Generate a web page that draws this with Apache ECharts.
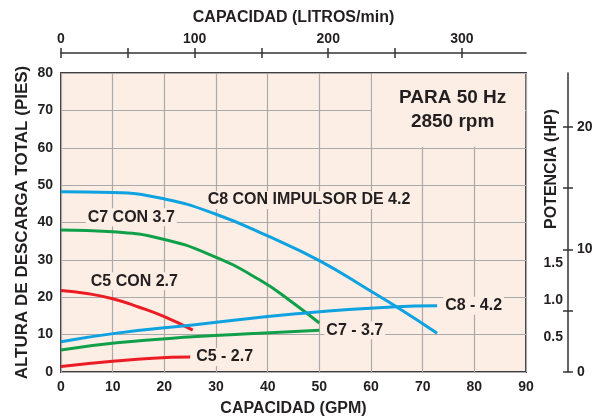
<!DOCTYPE html>
<html>
<head>
<meta charset="utf-8">
<script src="https://cdn.jsdelivr.net/npm/echarts@6/dist/echarts.min.js"></script>
<style>
  html, body { margin: 0; padding: 0; background: #fff; }
  #chart { width: 602px; height: 419px; }
</style>
</head>
<body>
<div id="chart"></div>
<script>
// head curves (ft vs GPM)
const c8HeadGpm = [0, 10, 20, 30, 40, 50, 60, 65, 72.8];
const c8HeadFt = [48.2, 48, 46.3, 42.2, 36.4, 29.8, 21.6, 17.4, 10.4];
const c7HeadGpm = [0, 10, 19, 29, 38.5, 45, 50];
const c7HeadFt = [38, 37.5, 35.8, 31.3, 24.6, 18.4, 13.1];
const c5HeadGpm = [0, 5, 10, 15, 20, 25.5];
const c5HeadFt = [21.8, 21, 19.6, 17.4, 14.8, 11.2];

// power curves (HP vs GPM)
const c8PowerGpm = [0, 10.8, 25.5, 45, 64, 72.8];
const c8PowerHp = [0.405, 0.52, 0.63, 0.775, 0.87, 0.885];
const c7PowerGpm = [0, 10.8, 25.5, 38.5, 50];
const c7PowerHp = [0.295, 0.39, 0.47, 0.52, 0.56];
const c5PowerGpm = [0, 9.5, 17.8, 25];
const c5PowerHp = [0.075, 0.14, 0.185, 0.2];

const topTicks = [0, 50, 100, 150, 200, 250, 300];
const topLabels = [0, 100, 200, 300];
const rightTicks = [0, 5, 10, 15, 20];
const rightLabels = [0, 10, 20];
const hpLabels = [0.5, 1.0, 1.5];

const BG = '#fdeee5';
const INK = '#231f20';
const FONT = '"Liberation Sans", Arial, sans-serif';
const BLUE = '#0ea2e0';
const GREEN = '#11a04a';
const RED = '#ec1c24';

const zip = (xs, ys) => xs.map((x, i) => [x, ys[i]]);

const chart = echarts.init(document.getElementById('chart'), null, { renderer: 'canvas' });

const lbl = { color: INK, fontFamily: FONT, fontWeight: 'bold', fontSize: 14 };
const nameLbl = { color: INK, fontFamily: FONT, fontWeight: 'bold', fontSize: 16 };
const curveLbl = {
  color: INK, fontFamily: FONT, fontWeight: 'bold', fontSize: 16,
  backgroundColor: BG, padding: [1, 2]
};
const tickLine = { color: '#333', width: 1.5 };

const headLabel = (text, coord) => ({
  symbol: 'circle', symbolSize: 1,
  itemStyle: { color: 'transparent' },
  label: Object.assign({ show: true, position: 'inside', formatter: text }, curveLbl),
  data: [{ coord: coord }]
});

chart.setOption({
  animation: false,
  textStyle: { fontFamily: FONT },
  grid: {
    left: 61, right: 76, top: 73, bottom: 47,
    outerBoundsMode: 'none', containLabel: false,
    show: true, backgroundColor: BG, borderColor: '#3d3d3d', borderWidth: 2
  },
  xAxis: [
    {
      type: 'value', position: 'bottom', min: 0, max: 90, interval: 10,
      name: 'CAPACIDAD (GPM)', nameLocation: 'middle', nameGap: 29, nameMoveOverlap: false,
      nameTextStyle: nameLbl,
      axisLine: { show: false, onZero: false }, axisTick: { show: false },
      axisLabel: Object.assign({ margin: 8 }, lbl),
      splitLine: { show: true, lineStyle: { color: '#aaaaaa', width: 1.2 } }
    },
    {
      type: 'value', position: 'top', offset: 20, min: 0, max: 348,
      name: 'CAPACIDAD (LITROS/min)', nameLocation: 'middle', nameGap: 27, nameMoveOverlap: false,
      nameTextStyle: nameLbl,
      axisLine: { show: true, onZero: false, lineStyle: tickLine },
      axisTick: { show: true, length: 5, customValues: topTicks, lineStyle: tickLine },
      axisLabel: Object.assign({ margin: 7, customValues: topLabels }, lbl),
      splitLine: { show: false }
    },
    {
      type: 'value', position: 'top', offset: 20, min: 0, max: 348,
      axisLine: { show: false, onZero: false },
      axisTick: { show: true, inside: true, length: 5, customValues: topTicks, lineStyle: tickLine },
      axisLabel: { show: false },
      splitLine: { show: false }
    }
  ],
  yAxis: [
    {
      type: 'value', position: 'left', min: 0, max: 80, interval: 10,
      name: 'ALTURA DE DESCARGA TOTAL (PIES)', nameLocation: 'middle', nameGap: 30, nameMoveOverlap: false,
      nameTextStyle: Object.assign({}, nameLbl, { fontSize: 17 }),
      axisLine: { show: false, onZero: false }, axisTick: { show: false },
      axisLabel: Object.assign({ margin: 8 }, lbl),
      splitLine: { show: true, lineStyle: { color: '#aaaaaa', width: 1.2 } }
    },
    {
      type: 'value', position: 'right', offset: 42, min: 0, max: 24.384,
      axisLine: { show: true, onZero: false, lineStyle: tickLine },
      axisTick: { show: true, length: 5, customValues: rightTicks, lineStyle: tickLine },
      axisLabel: Object.assign({ margin: 9, customValues: rightLabels }, lbl),
      splitLine: { show: false }
    },
    {
      type: 'value', position: 'right', offset: 42, min: 0, max: 24.384,
      axisLine: { show: false, onZero: false },
      axisTick: { show: true, inside: true, length: 5, customValues: rightTicks, lineStyle: tickLine },
      axisLabel: { show: false },
      splitLine: { show: false }
    },
    {
      type: 'value', position: 'right', offset: 42, min: 0, max: 4,
      axisLine: { show: false, onZero: false }, axisTick: { show: false },
      axisLabel: Object.assign({
        inside: true, margin: 5, customValues: hpLabels,
        formatter: v => v.toFixed(1), verticalAlign: 'top', padding: [-4, 0, 0, 0]
      }, lbl),
      splitLine: { show: false }
    }
  ],
  graphic: [
    {
      type: 'text', x: 552, y: 169, rotation: Math.PI / 2,
      style: {
        text: 'POTENCIA (HP)', fill: INK, font: 'bold 16px ' + FONT,
        textAlign: 'center', textVerticalAlign: 'middle'
      }
    }
  ],
  series: [
    {
      name: 'C8 CON IMPULSOR DE 4.2', type: 'line', smooth: true, symbol: 'none',
      data: zip(c8HeadGpm, c8HeadFt),
      lineStyle: { color: BLUE, width: 3 }, itemStyle: { color: BLUE },
      markPoint: headLabel('C8 CON IMPULSOR DE 4.2', [48, 46]),
      markArea: {
        silent: true,
        itemStyle: { color: BG },
        label: {
          show: true, position: 'inside', offset: [4, 0],
          formatter: 'PARA 50 Hz\n2850 rpm',
          color: INK, fontFamily: FONT, fontWeight: 'bold', fontSize: 19, lineHeight: 24
        },
        data: [[{ coord: [60.2, 60.3] }, { coord: [89.85, 79.8] }]]
      }
    },
    {
      name: 'C7 CON 3.7', type: 'line', smooth: true, symbol: 'none',
      data: zip(c7HeadGpm, c7HeadFt),
      lineStyle: { color: GREEN, width: 3 }, itemStyle: { color: GREEN },
      markPoint: headLabel('C7 CON 3.7', [13.6, 41.4])
    },
    {
      name: 'C5 CON 2.7', type: 'line', smooth: true, symbol: 'none',
      data: zip(c5HeadGpm, c5HeadFt),
      lineStyle: { color: RED, width: 3 }, itemStyle: { color: RED },
      markPoint: headLabel('C5 CON 2.7', [14.2, 24.3])
    },
    {
      name: 'C8 - 4.2', type: 'line', smooth: true, symbol: 'none', yAxisIndex: 3,
      data: zip(c8PowerGpm, c8PowerHp),
      lineStyle: { color: BLUE, width: 3 }, itemStyle: { color: BLUE },
      endLabel: Object.assign({ show: true, formatter: 'C8 - 4.2', distance: 6 }, curveLbl)
    },
    {
      name: 'C7 - 3.7', type: 'line', smooth: true, symbol: 'none', yAxisIndex: 3,
      data: zip(c7PowerGpm, c7PowerHp),
      lineStyle: { color: GREEN, width: 3 }, itemStyle: { color: GREEN },
      endLabel: Object.assign({ show: true, formatter: 'C7 - 3.7', distance: 5 }, curveLbl)
    },
    {
      name: 'C5 - 2.7', type: 'line', smooth: true, symbol: 'none', yAxisIndex: 3,
      data: zip(c5PowerGpm, c5PowerHp),
      lineStyle: { color: RED, width: 3 }, itemStyle: { color: RED },
      endLabel: Object.assign({ show: true, formatter: 'C5 - 2.7', distance: 4 }, curveLbl)
    }
  ]
});
</script>
</body>
</html>
